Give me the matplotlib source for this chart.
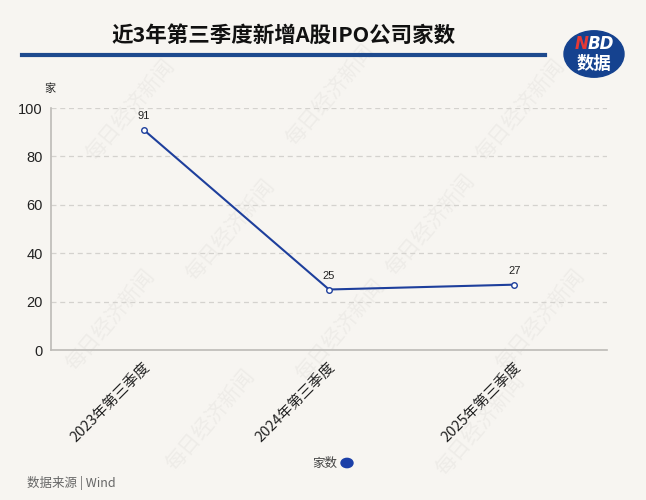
import matplotlib
matplotlib.use("Agg")
import matplotlib.pyplot as plt
from matplotlib.patches import Circle
from matplotlib.lines import Line2D

plt.rcParams['font.family'] = ['Noto Sans CJK SC', 'DejaVu Sans']

categories = ["2023年第三季度", "2024年第三季度", "2025年第三季度"]
values = [91, 25, 27]
yticks = [0, 20, 40, 60, 80, 100]
series_name = "家数"
title = "近3年第三季度新增A股IPO公司家数"
unit = "家"
source = "数据来源 | Wind"

BG = "#f7f5f1"
LINE = "#1e3f9c"

fig = plt.figure(figsize=(6.46, 5.0), dpi=100, facecolor=BG)
ax = fig.add_axes([51/646, 1-350/500, 556/646, 242/500], facecolor='none')

x = list(range(len(categories)))
ax.plot(x, values, color=LINE, lw=1.5, marker='o', ms=4, mfc='white', mec=LINE, mew=1.0, zorder=3)
for xi, v in zip(x, values):
    ax.annotate(str(v), (xi, v), xytext=(0, 6), textcoords='offset points',
                ha='center', va='bottom', fontsize=8, color='#222222', family=['Liberation Sans'])

ax.set_xlim(-0.5, 2.5)
ax.set_ylim(0, 100)
ax.set_yticks(yticks)
ax.set_yticklabels([str(t) for t in yticks], fontsize=10.5, color='#222222', family=['Liberation Sans'])
ax.set_xticks(x)
ax.set_xticklabels(categories, rotation=45, ha='right', rotation_mode='anchor', fontsize=10.5, color='#222222')
ax.tick_params(axis='both', length=0, pad=6)
ax.tick_params(axis='x', pad=8)
for t in yticks[1:]:
    ax.axhline(t, color='#d4d2ce', lw=0.9, ls=(0, (4, 3)), zorder=1)
for s in ['top', 'right']:
    ax.spines[s].set_visible(False)
ax.spines['left'].set_color('#bdbbb7')
ax.spines['bottom'].set_color('#bdbbb7')
ax.spines['left'].set_linewidth(1.2)
ax.spines['bottom'].set_linewidth(1.2)

# faint watermarks (behind the axes)
wm_pos = [(130, 110), (330, 95), (520, 110),
          (230, 230), (430, 225),
          (110, 320), (340, 330), (540, 320),
          (210, 420), (480, 425)]
for px, py in wm_pos:
    fig.text(px/646, 1-py/500, "每日经济新闻", rotation=50, fontsize=15, color='#eeece8',
             ha='center', va='center', zorder=-1)

# title & rule
fig.text(283/646, 1-35/500, title, fontsize=15.5, fontweight='bold', color='#111111', ha='center', va='center')
fig.add_artist(Line2D([22/646, 545/646], [1-55/500, 1-55/500], color='#1e4a8e', lw=3))
# logo
fig.add_artist(Circle((594/646, 1-54/500), 30/646, transform=fig.transFigure, color='#15428f', zorder=5))
fig.text(582/646, 1-44/500, "N", fontsize=12, fontweight='bold', style='italic', color='#e53935', ha='center', va='center', zorder=6, family=['DejaVu Sans'])
fig.text(601/646, 1-44/500, "BD", fontsize=12, fontweight='bold', style='italic', color='white', ha='center', va='center', zorder=6, family=['DejaVu Sans'])
fig.text(594/646, 1-64/500, "数据", fontsize=12.5, fontweight='bold', color='white', ha='center', va='center', zorder=6)

fig.text(50/646, 1-89/500, unit, fontsize=8, color='#222222', ha='center', va='center')

# legend
fig.text(337/646, 1-463/500, series_name, fontsize=9, color='#444444', ha='right', va='center')
fig.add_artist(Circle((347/646, 1-463/500), 6/646, transform=fig.transFigure, color='#1b3fa8'))

fig.text(27/646, 1-483/500, source, fontsize=9, color='#666666', ha='left', va='center')

fig.savefig("out.png", dpi=100, facecolor=BG)
